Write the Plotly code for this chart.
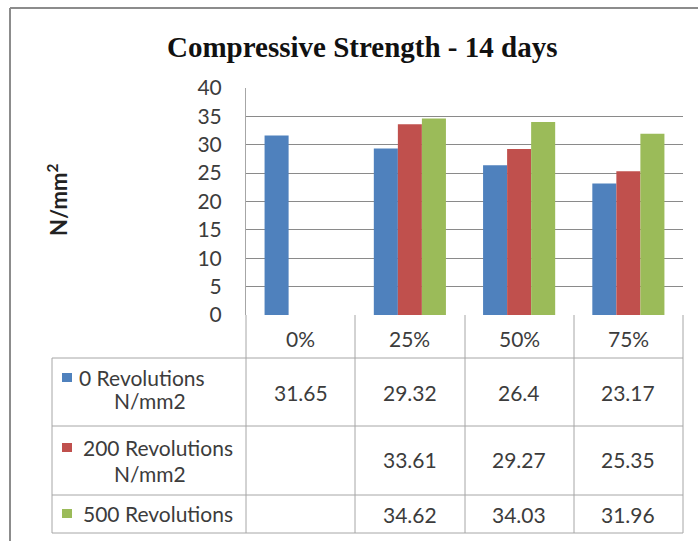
import plotly.graph_objects as go

categories = ["0%", "25%", "50%", "75%"]
series_names = ["0 Revolutions N/mm2", "200 Revolutions N/mm2", "500 Revolutions"]
label_line1 = ["0 Revolutions", "200 Revolutions", "500 Revolutions"]
label_line2 = ["N/mm2", "N/mm2", ""]
rev0 = [31.65, 29.32, 26.4, 23.17]
rev200 = [None, 33.61, 29.27, 25.35]
rev500 = [None, 34.62, 34.03, 31.96]
series_values = [rev0, rev200, rev500]
colors = ["#4F81BD", "#C0504D", "#9BBB59"]
y_ticks = [0, 5, 10, 15, 20, 25, 30, 35, 40]

W, H = 698, 541
L, R, T, B = 246, 15, 88, 226
PW = W - L - R
PH = H - T - B

def px(x):
    return (x - L) / PW

def py(y):
    return (H - B - y) / PH

FONT = "Lato"
FS = 21
TXT = "#3c3c3c"
LINE = "#a6a6a6"

fig = go.Figure()
for name, vals, c in zip(series_names, series_values, colors):
    fig.add_trace(go.Bar(x=categories, y=vals, name=name, marker=dict(color=c, line=dict(width=0))))

shapes = []
annotations = []

def txt(x, y, text, xref="paper", xanchor="center", size=FS, color=TXT, family=FONT, **kw):
    annotations.append(dict(x=x, y=y, xref=xref, yref="paper", text=text, showarrow=False,
                            xanchor=xanchor, yanchor="middle",
                            font=dict(family=family, size=size, color=color), **kw))

# outer chart frame (top & left)
shapes.append(dict(type="line", xref="paper", yref="paper", x0=px(10), x1=px(698), y0=py(8), y1=py(8),
                   line=dict(color="#8c8c8c", width=2)))
shapes.append(dict(type="line", xref="paper", yref="paper", x0=px(10), x1=px(10), y0=py(8), y1=py(541),
                   line=dict(color="#8c8c8c", width=2)))

# data table grid
col_edges = [246, 355, 465, 574, 683]
row_edges = [358, 426, 495, 533]
for xe in col_edges:
    shapes.append(dict(type="line", xref="paper", yref="paper", x0=px(xe), x1=px(xe), y0=py(315), y1=py(533),
                       line=dict(color=LINE, width=1)))
shapes.append(dict(type="line", xref="paper", yref="paper", x0=px(52), x1=px(52), y0=py(358), y1=py(533),
                   line=dict(color=LINE, width=1)))
for ye in row_edges:
    shapes.append(dict(type="line", xref="paper", yref="paper", x0=px(52), x1=px(683), y0=py(ye), y1=py(ye),
                       line=dict(color=LINE, width=1)))

# header row
for cat in categories:
    txt(cat, py(338), cat, xref="x")

row_centers = [392, 460, 514]
key_centers = [377, 447, 513]
line1_x = [77, 81, 81]
line2_centers = [400, 473, 0]
for i, (l1, l2, vals, c) in enumerate(zip(label_line1, label_line2, series_values, colors)):
    yc = key_centers[i]
    shapes.append(dict(type="rect", xref="paper", yref="paper", x0=px(62), x1=px(72), y0=py(yc - 4), y1=py(yc + 5),
                       fillcolor=c, line=dict(width=0)))
    txt(px(line1_x[i]), py(yc), l1, xanchor="left")
    if l2:
        txt(px(150), py(line2_centers[i]), l2)
    for cat, v in zip(categories, vals):
        if v is not None:
            txt(cat, py(row_centers[i]), str(v), xref="x")

# title
txt(px(362), py(47), "<b>Compressive Strength - 14 days</b>", size=29, color="#111111",
    family="Liberation Serif")
# y-axis title
txt(px(57), py(200), "<b>N/mm<sup>2</sup></b>", size=22, color="#222222", textangle=-90)

fig.update_layout(
    width=W, height=H,
    margin=dict(l=L, r=R, t=T, b=B, pad=0),
    paper_bgcolor="white", plot_bgcolor="white",
    barmode="group", bargap=0.34, bargroupgap=0,
    showlegend=False,
    shapes=shapes, annotations=annotations,
    xaxis=dict(showticklabels=False, showgrid=False, ticks="", showline=False, zeroline=False,
               range=[-0.5, 3.5]),
    yaxis=dict(range=[0, 40], tickvals=y_ticks, showgrid=True, gridcolor="#8a8a8a", gridwidth=1,
               showline=True, linecolor=LINE, linewidth=1, zeroline=False, ticks="",
               ticklabelstandoff=19,
               tickfont=dict(family=FONT, size=FS, color=TXT)),
)

fig.write_html("out.html", config={"displayModeBar": False},
               post_script="document.body.style.margin='0';document.body.style.overflow='hidden';")
